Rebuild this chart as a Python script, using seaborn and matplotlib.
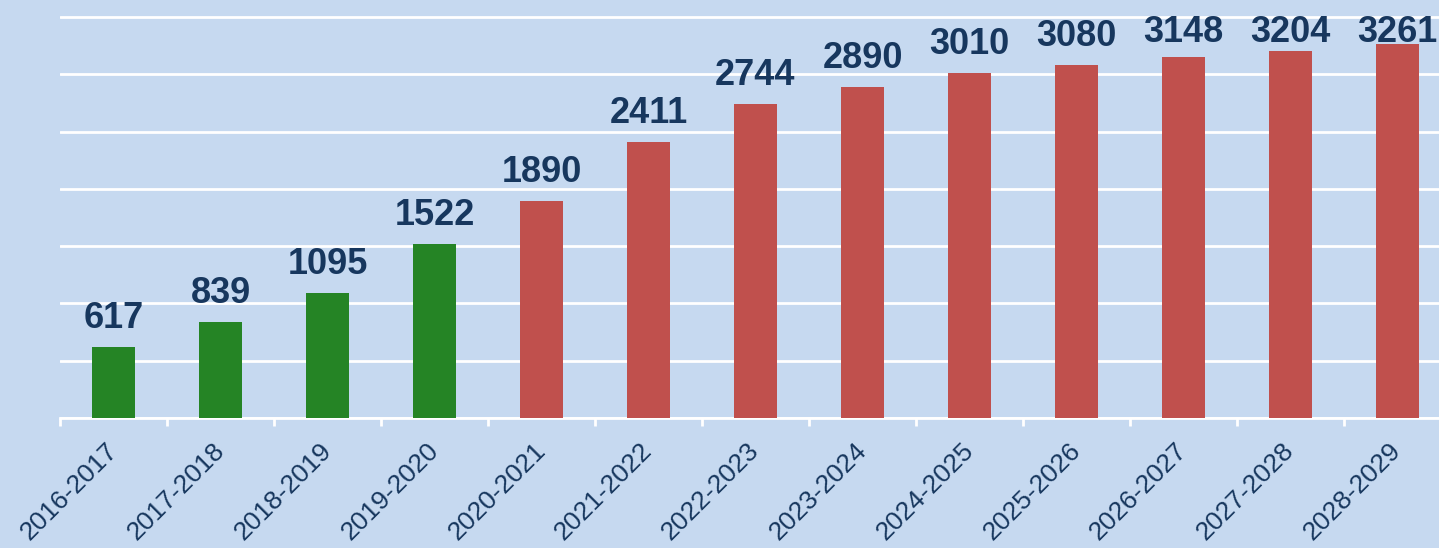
import matplotlib
matplotlib.use("Agg")
import matplotlib.pyplot as plt
import seaborn as sns
import pandas as pd
import numpy as np

periods = ["2016-2017", "2017-2018", "2018-2019", "2019-2020", "2020-2021",
           "2021-2022", "2022-2023", "2023-2024", "2024-2025", "2025-2026",
           "2026-2027", "2027-2028", "2028-2029"]
values = [617, 839, 1095, 1522, 1890, 2411, 2744, 2890, 3010, 3080, 3148, 3204, 3261]
bar_colors = ["#258425"] * 4 + ["#C0504D"] * 9

bg = "#C6D9F0"
navy = "#17375E"

df = pd.DataFrame({"period": periods, "value": values})

sns.set_style("white")
plt.rcParams["font.family"] = ["Liberation Sans", "DejaVu Sans"]

fig = plt.figure(figsize=(14.39, 5.48), dpi=100, facecolor=bg)
ax = fig.add_axes([60 / 1439, 1 - 418 / 548, 1391 / 1439, 418 / 548])
ax.set_facecolor(bg)

ymax = 3648
sns.barplot(data=df, x="period", y="value", hue="period", palette=bar_colors,
            width=0.41, saturation=1, linewidth=0, legend=False, ax=ax, zorder=3)

ax.set_xlim(-0.5, 12.5)
ax.set_ylim(0, ymax)

# value labels, kept inside the plot area like Excel does
unit = ymax / 418.0          # data units per pixel
gap = 19 * unit
top_limit = ymax - 42 * unit
for i, v in enumerate(values):
    ax.text(i, min(v + gap, top_limit), str(v), ha="center", va="baseline",
            fontsize=26, fontweight="bold", color=navy, zorder=4)

ax.set_yticks(np.arange(0, 3501, 500))
ax.set_yticklabels([])
ax.tick_params(axis="y", length=0)
ax.yaxis.grid(True, color="white", linewidth=2, zorder=0)
ax.set_axisbelow(True)

for s in ["top", "right", "left"]:
    ax.spines[s].set_visible(False)
ax.spines["bottom"].set_color("white")
ax.spines["bottom"].set_linewidth(2)

ax.set_xticks(np.arange(-0.5, 13, 1), minor=True)
ax.tick_params(axis="x", which="minor", bottom=True, length=6, width=2,
               color="white", direction="out")
ax.tick_params(axis="x", which="major", bottom=True, length=0, pad=21)
plt.setp(ax.get_xticklabels(), rotation=45, ha="right", va="center",
         rotation_mode="anchor", fontsize=19, color=navy)

ax.set_xlabel("")
ax.set_ylabel("")

fig.savefig("out.png", dpi=100, facecolor=bg)
